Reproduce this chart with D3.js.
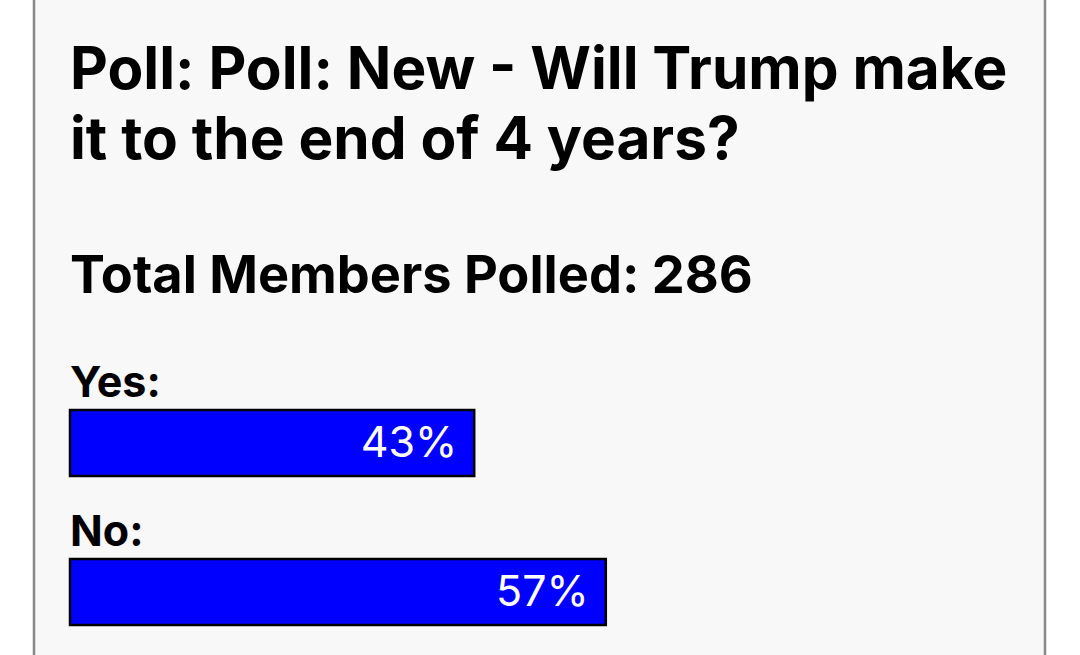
<!DOCTYPE html>
<html>
<head>
<meta charset="utf-8">
<script src="https://cdn.jsdelivr.net/npm/d3@7"></script>
<style>
  html, body { margin: 0; padding: 0; background: #fff; }
  svg { display: block; font-family: Inter, "Noto Sans", sans-serif; }
</style>
</head>
<body>
<script>
// poll data
const titleLines = ["Poll: Poll: New - Will Trump make", "it to the end of 4 years?"];
const totalLabel = "Total Members Polled: 286";
const options = ["Yes:", "No:"];
const percents = [43, 57];

const width = 1080;
const height = 655;

const svg = d3.select("body")
  .append("svg")
  .attr("width", width)
  .attr("height", height);

// panel background with side borders
svg.append("rect")
  .attr("x", 34).attr("y", -5)
  .attr("width", 1011).attr("height", height + 10)
  .attr("fill", "#f8f8f8")
  .attr("stroke", "#888")
  .attr("stroke-width", 2.5);

// title
svg.append("g")
  .selectAll("text")
  .data(titleLines)
  .enter().append("text")
    .attr("x", 70)
    .attr("y", (d, i) => 89 + i * 70)
    .attr("font-size", 58.5)
    .attr("font-weight", 700)
    .attr("fill", "#000")
    .text(d => d);

svg.append("text")
  .attr("x", 70).attr("y", 293)
  .attr("font-size", 52.3)
  .attr("font-weight", 700)
  .text(totalLabel);

// bar scale
const x = d3.scaleLinear().domain([0, 100]).range([0, 940]);
const y = d3.scaleBand().domain(options).range([345, 643]).paddingInner(0);

const rows = svg.append("g")
  .selectAll(".row")
  .data(options)
  .enter().append("g")
    .attr("class", "row")
    .attr("transform", d => "translate(70," + y(d) + ")");

rows.append("text")
  .attr("y", 52)
  .attr("font-size", 43)
  .attr("font-weight", 700)
  .text(d => d);

rows.append("rect")
  .attr("y", 65)
  .attr("width", (d, i) => x(percents[i]))
  .attr("height", 66)
  .attr("fill", "#0000ff")
  .attr("stroke", "#000")
  .attr("stroke-width", 2.5);

rows.append("text")
  .attr("x", (d, i) => x(percents[i]) - 17)
  .attr("y", 112)
  .attr("text-anchor", "end")
  .attr("font-size", 43)
  .attr("fill", "#fff")
  .text((d, i) => percents[i] + "%");
</script>
</body>
</html>
